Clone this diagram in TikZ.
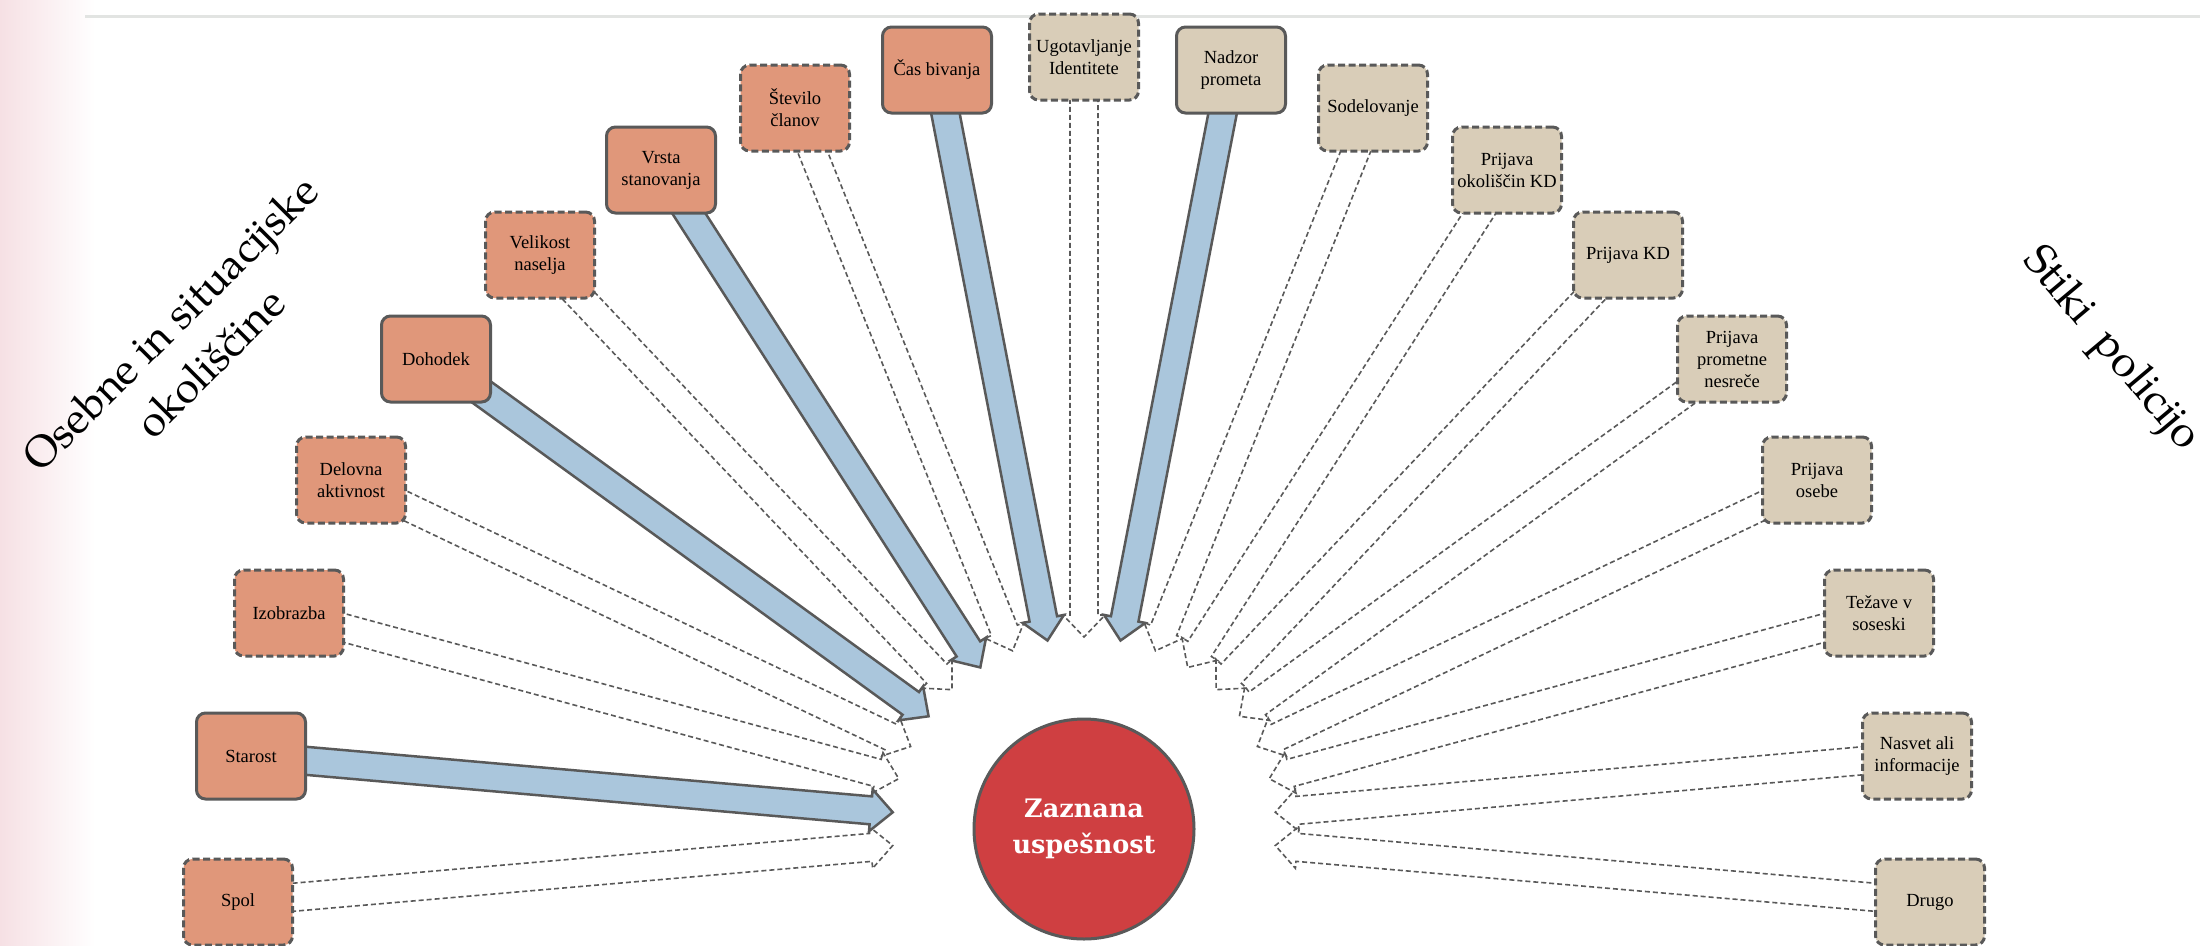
\documentclass[tikz,border=0pt]{standalone}
\usepackage{fontspec}
\usetikzlibrary{calc}
\newfontfamily\boxfont{Liberation Serif}
\newfontfamily\circfont{DejaVu Serif}
\IfFontExistsTF{TeX Gyre Pagella}
  {\newfontfamily\titlefont{TeX Gyre Pagella}}
  {\newfontfamily\titlefont{Latin Modern Roman}}
\definecolor{boxorange}{HTML}{E0977A}
\definecolor{boxbeige}{HTML}{D9CDB8}
\definecolor{arrowblue}{HTML}{AAC6DC}
\definecolor{bordergray}{HTML}{595959}
\definecolor{zred}{HTML}{CF3F41}
\definecolor{topline}{HTML}{E2E4E2}
\definecolor{edgepink}{HTML}{F6E0E4}
\pgfdeclarelayer{back}
\pgfdeclarelayer{arrows}
\pgfsetlayers{back,arrows,main}
\tikzset{
  x=1pt, y=-1pt,
  box/.style={rounded corners=9pt, minimum width=109pt, minimum height=86pt,
    inner sep=0pt, line width=3pt, draw=bordergray, align=center,
    font=\boxfont\fontsize{18.5}{22}\selectfont},
  solidbox/.style={box},
  dashbox/.style={box, dash pattern=on 7pt off 3.5pt},
  lbox/.style={fill=boxorange},
  rbox/.style={fill=boxbeige},
  blockblue/.style={fill=arrowblue, draw=bordergray, line width=2.5pt, line join=miter},
  blockdash/.style={draw=bordergray, line width=1.6pt, dash pattern=on 5pt off 3pt},
  title/.style={align=center, inner sep=0pt},
}
\newcommand{\conn}[2]{%
  \coordinate (S) at (#1.center);
  \coordinate (H) at ($(zc.center)!214pt!(#1.center)$);
  \coordinate (T) at ($(zc.center)!192pt!(#1.center)$);
  \draw[#2] ($(S)!14pt!90:(zc.center)$) -- ($(H)!14pt!90:(zc.center)$)
    -- ($(H)!21pt!90:(zc.center)$) -- (T) -- ($(H)!21pt!-90:(zc.center)$)
    -- ($(H)!14pt!-90:(zc.center)$) -- ($(S)!14pt!-90:(zc.center)$) -- cycle;
}
\begin{document}
\begin{tikzpicture}
\useasboundingbox (0,0) rectangle (2200,945);
\begin{pgfonlayer}{back}
  \fill[white] (0,0) rectangle (2200,945);
  \shade[left color=edgepink, right color=white] (0,0) rectangle (95,945);
  \draw[line width=3pt, topline] (85,16.5) -- (2200,16.5);
\end{pgfonlayer}

% centre
\node[circle, fill=zred, draw=bordergray, line width=3pt, minimum size=220pt,
  inner sep=0pt, text=white, align=center,
  font=\circfont\bfseries\fontsize{25.5}{36}\selectfont] (zc) at (1084,829) {Zaznana\\uspešnost};

% left boxes
\node[dashbox, lbox]  (spol)      at (238,902) {Spol};
\node[solidbox, lbox] (starost)   at (251,756) {Starost};
\node[dashbox, lbox]  (izobrazba) at (289,613) {Izobrazba};
\node[dashbox, lbox]  (delovna)   at (351,480) {Delovna\\aktivnost};
\node[solidbox, lbox] (dohodek)   at (436,359) {Dohodek};
\node[dashbox, lbox]  (velikost)  at (540,255) {Velikost\\naselja};
\node[solidbox, lbox] (vrsta)     at (661,170) {Vrsta\\stanovanja};
\node[dashbox, lbox]  (stevilo)   at (795,108) {Število\\članov};
\node[solidbox, lbox] (cas)       at (937,70)  {Čas bivanja};
% middle
\node[dashbox, rbox]  (ugot)      at (1084,57) {Ugotavljanje\\Identitete};
% right boxes
\node[solidbox, rbox] (nadzor)    at (1231,70)  {Nadzor\\prometa};
\node[dashbox, rbox]  (sodel)     at (1373,108) {Sodelovanje};
\node[dashbox, rbox]  (prijokol)  at (1507,170) {Prijava\\okoliščin KD};
\node[dashbox, rbox]  (prijkd)    at (1628,255) {Prijava KD};
\node[dashbox, rbox]  (prijprom)  at (1732,359) {Prijava\\prometne\\nesreče};
\node[dashbox, rbox]  (prijos)    at (1817,480) {Prijava\\osebe};
\node[dashbox, rbox]  (tezave)    at (1879,613) {Težave v\\soseski};
\node[dashbox, rbox]  (nasvet)    at (1917,756) {Nasvet ali\\informacije};
\node[dashbox, rbox]  (drugo)     at (1930,902) {Drugo};

% titles
\node[title, rotate=45, font=\titlefont\fontsize{43}{56}\selectfont] (tleft) at (190,343)
  {Osebne in situacijske\\okoliščine};
\node[title, rotate=-50, font=\titlefont\fontsize{44}{50}\selectfont] (tright) at (2110,350)
  {Stiki~ policijo};

% connectors
\begin{pgfonlayer}{arrows}
  \conn{spol}{blockdash}
  \conn{starost}{blockblue}
  \conn{izobrazba}{blockdash}
  \conn{delovna}{blockdash}
  \conn{dohodek}{blockblue}
  \conn{velikost}{blockdash}
  \conn{vrsta}{blockblue}
  \conn{stevilo}{blockdash}
  \conn{cas}{blockblue}
  \conn{ugot}{blockdash}
  \conn{nadzor}{blockblue}
  \conn{sodel}{blockdash}
  \conn{prijokol}{blockdash}
  \conn{prijkd}{blockdash}
  \conn{prijprom}{blockdash}
  \conn{prijos}{blockdash}
  \conn{tezave}{blockdash}
  \conn{nasvet}{blockdash}
  \conn{drugo}{blockdash}
\end{pgfonlayer}
\end{tikzpicture}
\end{document}
